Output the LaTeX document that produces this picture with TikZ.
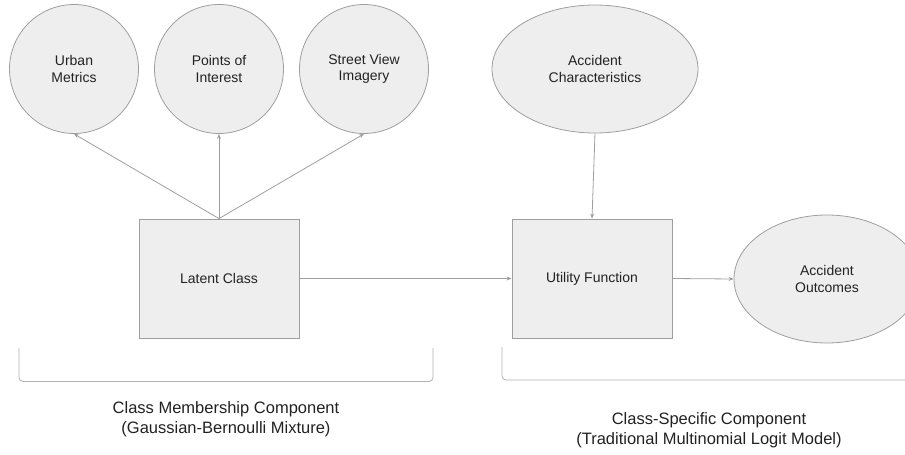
\documentclass[tikz,border=0pt]{standalone}
\usepackage{fontspec}
\setmainfont{Liberation Sans}
\usetikzlibrary{shapes.geometric,arrows.meta}
\definecolor{boxfill}{HTML}{EEEEEE}
\definecolor{boxline}{HTML}{9E9E9E}
\definecolor{txt}{HTML}{222222}
\tikzset{
	var/.style={circle, draw=boxline, fill=boxfill, minimum size=129pt, align=center,
		font=\fontsize{14}{16.5}\selectfont, text=txt},
	obs/.style={ellipse, draw=boxline, fill=boxfill, minimum height=128pt, align=center,
		font=\fontsize{14}{16.5}\selectfont, text=txt},
	blk/.style={rectangle, draw=boxline, fill=boxfill, minimum width=160pt, minimum height=119pt,
		font=\fontsize{14}{16.5}\selectfont, text=txt},
	grouplabel/.style={align=center, font=\fontsize{16.5}{20}\selectfont, text=txt},
	brace/.style={draw=boxline!80, rounded corners=4pt}
}
\begin{document}
\begin{tikzpicture}[x=1pt, y=-1pt, line width=0.8pt, >={Stealth[length=5pt,width=4pt]}]
	\useasboundingbox (0,0) rectangle (905,455);
	\clip (0,0) rectangle (905,455);

	\node[var] (um) at (74,69) {Urban\\Metrics};
	\node[var] (poi) at (219,69) {Points of\\Interest};
	\node[var] (svi) at (364,69) {Street View\\Imagery};
	\node[obs, minimum width=206pt] (ac) at (595,69) {Accident\\Characteristics};

	\node[blk] (lc) at (219,278.5) {Latent Class};
	\node[blk] (uf) at (592,278.5) {Utility Function};
	\node[obs, minimum width=186pt] (ao) at (827,279) {Accident\\Outcomes};

	\draw[->, boxline] (lc.north) -- (um.south);
	\draw[->, boxline] (lc.north) -- (poi.south);
	\draw[->, boxline] (lc.north) -- (svi.south);
	\draw[->, boxline] (lc.east) -- (uf.west);
	\draw[->, boxline] (ac.south) -- (uf.north);
	\draw[->, boxline] (uf.east) -- (ao.west);

	% grouping brackets
	\draw[brace] (19,348) -- (19,381.5) -- (433,381.5) -- (433,348);
	\draw[brace] (502,347) -- (502,380) -- (920,380);

	\node[grouplabel] (cm) at (226,419) {Class Membership Component\\(Gaussian-Bernoulli Mixture)};
	\node[grouplabel] (cs) at (709,430) {Class-Specific Component\\(Traditional Multinomial Logit Model)};
\end{tikzpicture}
\end{document}
